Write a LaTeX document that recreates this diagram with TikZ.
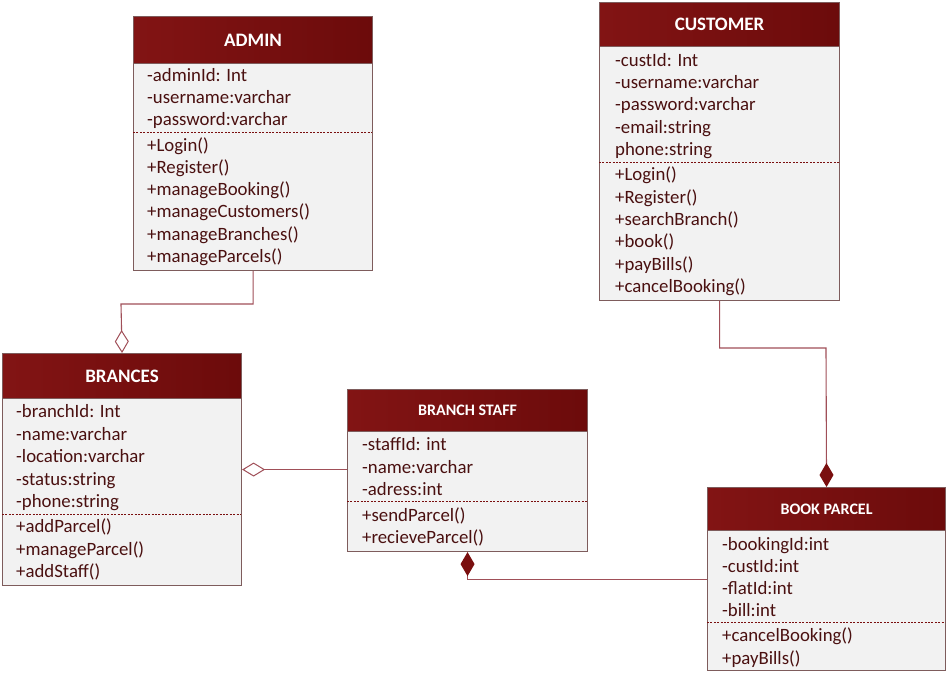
\documentclass[tikz,border=0pt]{standalone}
\usepackage{fontspec}
\setmainfont{Carlito}
\usetikzlibrary{arrows.meta}
\definecolor{hdrL}{HTML}{821414}
\definecolor{hdrR}{HTML}{6C0B0B}
\definecolor{boxborder}{HTML}{7E5C5C}
\definecolor{boxfill}{HTML}{F2F2F2}
\definecolor{txt}{HTML}{4A1010}
\definecolor{conncol}{HTML}{A04F58}
\definecolor{darkred}{HTML}{7A0F0F}
\tikzset{
  classbox/.style={draw=boxborder, line width=1.1pt, fill=boxfill, anchor=north west, inner sep=0pt},
  header/.style={draw=boxborder, line width=1.1pt, left color=hdrL, right color=hdrR, anchor=north west, inner sep=0pt, text=white, font=\fontsize{19}{22}\selectfont\bfseries},
  smallheader/.style={header, font=\fontsize{16}{19}\selectfont\bfseries},
  attr/.style={anchor=mid west, inner sep=0pt, yshift=-4.5pt, text=txt, font=\fontsize{18.8}{22}\selectfont},
  sep/.style={draw=darkred, line width=0.8pt, dash pattern=on 2pt off 1.4pt},
  conn/.style={draw=conncol, line width=1.1pt},
  odiamond/.style={conn, arrows={-{Diamond[open, fill=white, length=23pt, width=14pt, line width=1pt]}}},
  fdiamond/.style={conn, arrows={-{Diamond[color=darkred, fill=darkred, length=24pt, width=14pt]}}},
}
\begin{document}
\begin{tikzpicture}[x=1pt, y=-1pt]
\useasboundingbox (0,0) rectangle (948,679);

% ADMIN
\node[classbox, minimum width=239pt, minimum height=254pt] (admin) at (133,16) {};
\node[header, minimum width=239pt, minimum height=47pt] (adminh) at (133,16) {ADMIN};
\node[attr] (a1) at (147,75) {-adminId: Int};
\node[attr] (a2) at (147,97) {-username:varchar};
\node[attr] (a3) at (147,119) {-password:varchar};
\draw[sep] (133,132) -- (372,132);
\node[attr] (a4) at (147,145) {+Login()};
\node[attr] (a5) at (147,167) {+Register()};
\node[attr] (a6) at (147,189) {+manageBooking()};
\node[attr] (a7) at (147,211) {+manageCustomers()};
\node[attr] (a8) at (147,234) {+manageBranches()};
\node[attr] (a9) at (147,256) {+manageParcels()};

% CUSTOMER
\node[classbox, minimum width=240pt, minimum height=298pt] (cust) at (599,2) {};
\node[header, minimum width=240pt, minimum height=44pt] (custh) at (599,2) {CUSTOMER};
\node[attr] (c1) at (615,60) {-custId: Int};
\node[attr] (c2) at (615,82) {-username:varchar};
\node[attr] (c3) at (615,104) {-password:varchar};
\node[attr] (c4) at (615,127) {-email:string};
\node[attr] (c5) at (615,149) {phone:string};
\draw[sep] (599,162) -- (839,162);
\node[attr] (c6) at (615,174) {+Login()};
\node[attr] (c7) at (615,197) {+Register()};
\node[attr] (c8) at (615,219) {+searchBranch()};
\node[attr] (c9) at (615,241) {+book()};
\node[attr] (c10) at (615,264) {+payBills()};
\node[attr] (c11) at (615,286) {+cancelBooking()};

% BRANCES
\node[classbox, minimum width=239pt, minimum height=232pt] (br) at (2,353) {};
\node[header, minimum width=239pt, minimum height=45pt] (brh) at (2,353) {BRANCES};
\node[attr] (b1) at (16,411) {-branchId: Int};
\node[attr] (b2) at (16,434) {-name:varchar};
\node[attr] (b3) at (16,456) {-location:varchar};
\node[attr] (b4) at (16,479) {-status:string};
\node[attr] (b5) at (16,501) {-phone:string};
\draw[sep] (2,514) -- (241,514);
\node[attr] (b6) at (16,526) {+addParcel()};
\node[attr] (b7) at (16,549) {+manageParcel()};
\node[attr] (b8) at (16,571) {+addStaff()};

% BRANCH STAFF
\node[classbox, minimum width=240pt, minimum height=162pt] (st) at (347,389) {};
\node[smallheader, minimum width=240pt, minimum height=42pt] (sth) at (347,389) {BRANCH STAFF};
\node[attr] (s1) at (362,444) {-staffId: int};
\node[attr] (s2) at (362,467) {-name:varchar};
\node[attr] (s3) at (362,489) {-adress:int};
\draw[sep] (347,501) -- (587,501);
\node[attr] (s4) at (362,515) {+sendParcel()};
\node[attr] (s5) at (362,537) {+recieveParcel()};

% BOOK PARCEL
\node[classbox, minimum width=238pt, minimum height=183pt] (bp) at (707,487) {};
\node[smallheader, minimum width=238pt, minimum height=43pt] (bph) at (707,487) {BOOK PARCEL};
\node[attr] (p1) at (722,544) {-bookingId:int};
\node[attr] (p2) at (722,566) {-custId:int};
\node[attr] (p3) at (722,588) {-flatId:int};
\node[attr] (p4) at (722,610) {-bill:int};
\draw[sep] (707,622) -- (945,622);
\node[attr] (p5) at (722,635) {+cancelBooking()};
\node[attr] (p6) at (722,658) {+payBills()};

% connectors
\coordinate (k1) at (121,304);
\draw[odiamond] (admin.south) |- (k1) -- (br.north);
\draw[odiamond] (st.west |- br.east) -- (br.east);
\draw[fdiamond] (bp.west) -| (st.south);
\coordinate (k2) at (826,348);
\draw[fdiamond] (cust.south) |- (k2) -- (bp.north);
\end{tikzpicture}
\end{document}
